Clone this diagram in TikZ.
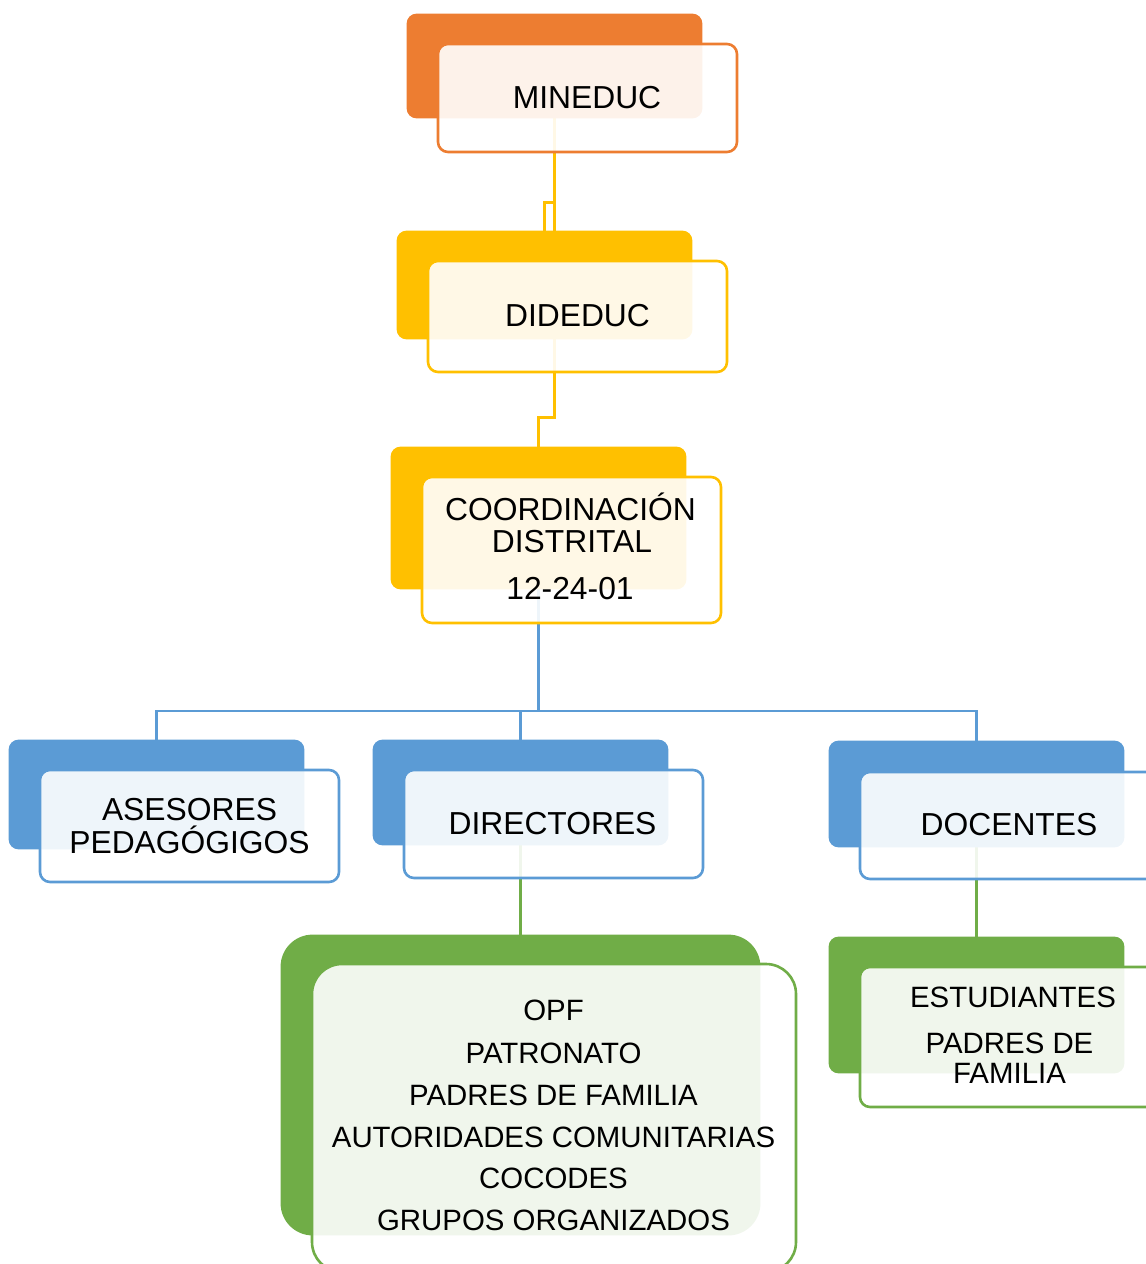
\documentclass[tikz,border=0pt]{standalone}
\usepackage{fontspec}
\setmainfont{Liberation Sans}
\usetikzlibrary{fit}
\definecolor{cOrange}{HTML}{ED7D31}
\definecolor{cGold}{HTML}{FFC000}
\definecolor{cBlue}{HTML}{5B9BD5}
\definecolor{cGreen}{HTML}{70AD47}
\begin{document}
\begin{tikzpicture}[x=0.5pt,y=-0.5pt,
  frontbox/.style={draw=#1, line width=1.3pt, fill=white, fill opacity=0.9, rounded corners=5pt, inner sep=0pt},
  link/.style={draw=#1, line width=1.1pt},
  lbl/.style={anchor=base, inner sep=0pt, font=\fontsize{15.9}{17}\selectfont},
  sml/.style={anchor=base, inner sep=0pt, font=\fontsize{14.7}{15}\selectfont},
]
\useasboundingbox (0,0) rectangle (1146,1264);

% back boxes (positions only, filled later)
\path node[fit={(407,14) (702,118)}, inner sep=0pt] (mineducB) {}
      node[fit={(397,231) (692,339)}, inner sep=0pt] (dideducB) {}
      node[fit={(391,447) (686,589)}, inner sep=0pt] (coordB) {}
      node[fit={(9,740) (304,849)}, inner sep=0pt] (asesoresB) {}
      node[fit={(373,740) (668,845)}, inner sep=0pt] (directoresB) {}
      node[fit={(829,741) (1124,847)}, inner sep=0pt] (docentesB) {}
      node[fit={(281,935) (760,1235)}, inner sep=0pt] (opfB) {}
      node[fit={(829,937) (1124,1073)}, inner sep=0pt] (estudiantesB) {};

% connectors
\draw[link=cGold] (mineducB.south) -- (mineducB.south |- dideducB.north);
\draw[link=cGold] ([yshift=-42pt]mineducB.south) -| (dideducB.north);
\draw[link=cGold] ([xshift=5pt]dideducB.south) -- ++(0,78) -| (coordB.north);
\coordinate (bus) at (coordB.south |- 0,711);
\draw[link=cBlue] (coordB.south) -- (bus);
\draw[link=cBlue] (bus) -| (asesoresB.north);
\draw[link=cBlue] (bus) -| (directoresB.north);
\draw[link=cBlue] (bus) -| (docentesB.north);
\draw[link=cGreen] (directoresB.south) -- (opfB.north);
\draw[link=cGreen] (docentesB.south) -- (estudiantesB.north);

% back boxes drawn
\fill[cOrange, rounded corners=5pt] (mineducB.north west) rectangle (mineducB.south east);
\fill[cGold, rounded corners=5pt] (dideducB.north west) rectangle (dideducB.south east);
\fill[cGold, rounded corners=5pt] (coordB.north west) rectangle (coordB.south east);
\fill[cBlue, rounded corners=5pt] (asesoresB.north west) rectangle (asesoresB.south east);
\fill[cBlue, rounded corners=5pt] (directoresB.north west) rectangle (directoresB.south east);
\fill[cBlue, rounded corners=5pt] (docentesB.north west) rectangle (docentesB.south east);
\fill[cGreen, rounded corners=16pt] (opfB.north west) rectangle (opfB.south east);
\fill[cGreen, rounded corners=5pt] (estudiantesB.north west) rectangle (estudiantesB.south east);

% front boxes
\node[frontbox=cOrange, fit={(438,44) (737,152)}] (mineduc) {};
\node[frontbox=cGold, fit={(428,261) (727,372)}] (dideduc) {};
\node[frontbox=cGold, fit={(422,477) (721,623)}] (coord) {};
\node[frontbox=cBlue, fit={(40,770) (339,882)}] (asesores) {};
\node[frontbox=cBlue, fit={(404,770) (703,878)}] (directores) {};
\node[frontbox=cBlue, fit={(860,772) (1175,879)}] (docentes) {};
\node[frontbox=cGreen, rounded corners=15pt, fit={(312,964) (796,1272)}] (opf) {};
\node[frontbox=cGreen, fit={(860,967) (1175,1107)}] (estudiantes) {};

% texts
\node[lbl] (t1) at (587,108) {MINEDUC};
\node[lbl] (t2) at (577.5,326) {DIDEDUC};
\node[lbl] (t3a) at (570.5,520) {COORDINACIÓN};
\node[lbl] (t3b) at (572,552) {DISTRITAL};
\node[lbl] (t3c) at (570,599) {12-24-01};
\node[lbl] (t4a) at (189.5,820) {ASESORES};
\node[lbl] (t4b) at (189.5,853) {PEDAGÓGIGOS};
\node[lbl] (t5) at (552.5,834) {DIRECTORES};
\node[lbl] (t6) at (1009,835) {DOCENTES};
\node[sml] (t7a) at (553.5,1020) {OPF};
\node[sml] (t7b) at (553.5,1063) {PATRONATO};
\node[sml] (t7c) at (553.5,1105) {PADRES DE FAMILIA};
\node[sml] (t7d) at (553.5,1147) {AUTORIDADES COMUNITARIAS};
\node[sml] (t7e) at (553.5,1188) {COCODES};
\node[sml] (t7f) at (553.5,1230) {GRUPOS ORGANIZADOS};
\node[sml] (t8a) at (1013,1007) {ESTUDIANTES};
\node[sml] (t8b) at (1009.5,1053) {PADRES DE};
\node[sml] (t8c) at (1009.5,1083) {FAMILIA};
\end{tikzpicture}
\end{document}
